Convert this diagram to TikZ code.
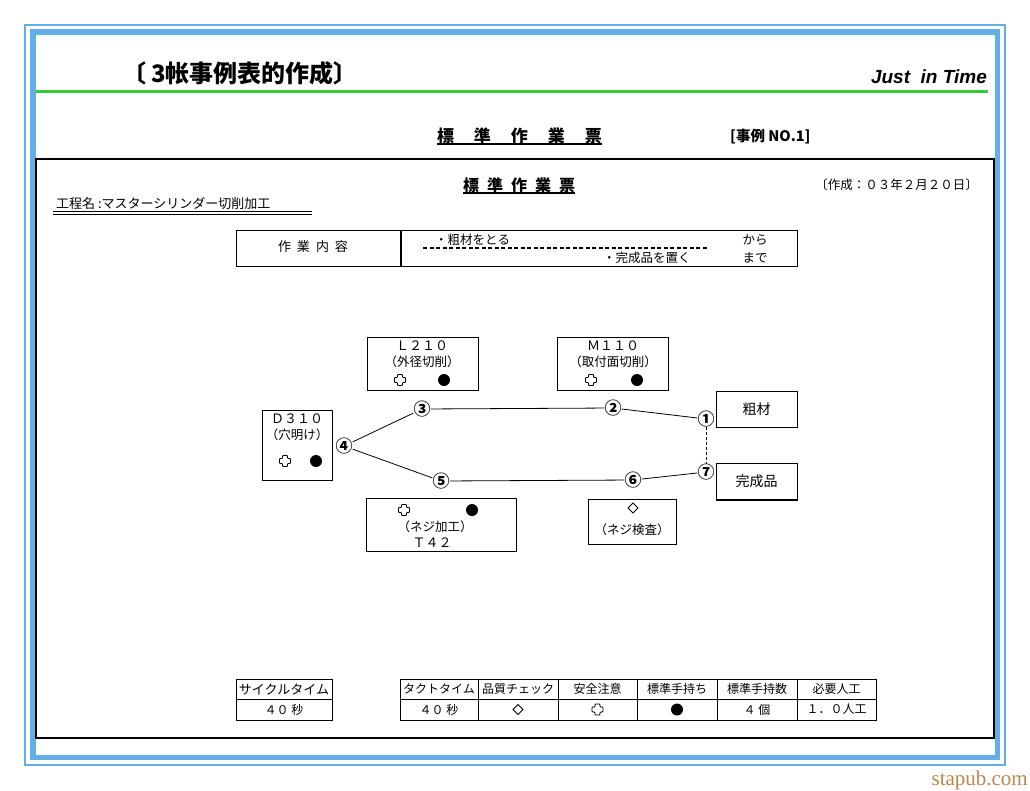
\documentclass[tikz,border=0pt]{standalone}
\usepackage{fontspec}
\newfontfamily\jp{Noto Sans CJK JP}
\newfontfamily\lib{Liberation Sans}
\newfontfamily\stapubfont{Liberation Serif}
\usetikzlibrary{positioning}

\begin{document}
\begin{tikzpicture}[x=1pt, y=-1pt, font=\jp\fontsize{12.5}{14}\selectfont,
        box/.style={draw, line width=1pt, inner sep=0pt},
        cell/.style={draw, line width=1pt, inner sep=0pt, font=\jp\fontsize{12}{14}\selectfont},
        napis/.style={inner sep=0pt},
        num/.style={inner sep=0pt, font=\jp\bfseries\fontsize{17}{17}\selectfont},
        plusmark/.pic={
            \draw[line width=0.9pt, fill=white, rounded corners=0.8pt]
                (-2.5,-5.5) -- (2.5,-5.5) -- (2.5,-2.5) -- (5.5,-2.5) -- (5.5,2.5)
                -- (2.5,2.5) -- (2.5,5.5) -- (-2.5,5.5) -- (-2.5,2.5) -- (-5.5,2.5)
                -- (-5.5,-2.5) -- (-2.5,-2.5) -- cycle;
        },
        dotmark/.pic={\fill (0,0) circle [radius=6pt];},
        diamondmark/.pic={\draw[line width=0.8pt] (0,-5) -- (5,0) -- (0,5) -- (-5,0) -- cycle;}
    ]
        % Kolory
        \definecolor{frameBlue}{RGB}{98, 174, 230}
        \definecolor{lineGreen}{RGB}{50, 205, 50}
        \definecolor{textBrown}{RGB}{186, 135, 78}

        \useasboundingbox (0,0) rectangle (1030,790);
        \fill[white] (0,0) rectangle (1030,790);

        % Ramki
        \draw[frameBlue, line width=2pt] (25,25) rectangle (1005,764.5);
        \draw[frameBlue, line width=5.5pt] (33,32) rectangle (997.5,757.5);
        \draw[lineGreen, line width=3pt] (36,91.3) -- (988,91.3);
        \draw[line width=2.5pt] (36,159) rectangle (994,738);

        % Naglowek
        \node[napis, anchor=west, font=\jp\bfseries\fontsize{24}{24}\selectfont] (headTxt) at (122,73) {〔\hspace{5pt}3帐事例表的作成〕};
        \node[napis, anchor=base east, font=\lib\bfseries\itshape\fontsize{19}{19}\selectfont] (jitTxt) at (987,83.5) {Just\ \ in Time};
        \node[napis, font=\jp\bfseries\fontsize{17}{17}\selectfont] (titleTxt) at (519.5,136) {標\hspace{20pt}準\hspace{20pt}作\hspace{20pt}業\hspace{20pt}票};
        \draw[line width=2pt] (titleTxt.south west) -- (titleTxt.south east);
        \node[napis, anchor=west, font=\jp\bfseries\fontsize{14.5}{14.5}\selectfont] (caseTxt) at (730,137) {[事例 NO.1]};

        % Karta
        \node[napis, font=\jp\bfseries\fontsize{16}{16}\selectfont] (sheetTxt) at (519,185) {標\hspace{8pt}準\hspace{8pt}作\hspace{8pt}業\hspace{8pt}票};
        \draw[line width=1.5pt] (sheetTxt.south west) -- (sheetTxt.south east);
        \node[napis, anchor=east] (dateTxt) at (978,185) {〔作成：０３年２月２０日〕};
        \node[napis, anchor=west, font=\jp\fontsize{13}{13}\selectfont] (procTxt) at (56,204) {工程名 :マスターシリンダー切削加工};
        \draw[line width=0.8pt] (53,211) -- (312,211);
        \draw[line width=0.8pt] (53,214) -- (312,214);

        % Zakres pracy
        \node[box, minimum width=164pt, minimum height=36pt] (workBox) at (318,248) {};
        \node[box, minimum width=397pt, minimum height=36pt] (rangeBox) at (598.5,248) {};
        \draw[line width=2pt] (workBox.north east) -- (workBox.south east);
        \node[napis, font=\jp\fontsize{13}{13}\selectfont] (workTxt) at (313,247) {作\hspace{6pt}業\hspace{6pt}内\hspace{6pt}容};
        \node[napis, anchor=west] (startTxt) at (435,240) {・粗材をとる};
        \node[napis, anchor=west] (endTxt) at (603,258) {・完成品を置く};
        \draw[line width=1.4pt, dash pattern=on 4pt off 2.5pt] (423,248) -- (708,248);
        \node[napis] (fromTxt) at (755,240) {から};
        \node[napis] (toTxt) at (755,258) {まで};

        % Stanowiska
        \node[box, minimum width=111pt, minimum height=53pt] (l210) at (422.5,363.5) {};
        \node[box, minimum width=111pt, minimum height=53pt] (m110) at (612.5,363.5) {};
        \node[box, minimum width=70pt, minimum height=70pt] (d310) at (297,445) {};
        \node[box, minimum width=150pt, minimum height=53pt] (t42) at (441,524.5) {};
        \node[box, minimum width=88pt, minimum height=45pt] (check) at (632,521.5) {};
        \node[box, minimum width=81pt, minimum height=36pt, font=\jp\fontsize{14}{14}\selectfont] (raw) at (756.5,409) {粗材};
        \node[box, minimum width=81pt, minimum height=36pt, font=\jp\fontsize{14}{14}\selectfont] (done) at (756.5,481) {完成品};
        \draw[line width=2pt] (done.south west) -- (done.south east);

        \node[napis, font=\jp\fontsize{13}{13}\selectfont] (l210Txt) at (422,346) {Ｌ２１０};
        \node[napis] (l210Sub) at (422,362) {（外径切削）};
        \pic at (400,380) {plusmark};
        \pic at (444,380) {dotmark};

        \node[napis, font=\jp\fontsize{13}{13}\selectfont] (m110Txt) at (613,346) {Ｍ１１０};
        \node[napis] (m110Sub) at (613,362) {（取付面切削）};
        \pic at (591,380) {plusmark};
        \pic at (637,380) {dotmark};

        \node[napis, font=\jp\fontsize{13}{13}\selectfont] (d310Txt) at (297,419) {Ｄ３１０};
        \node[napis] (d310Sub) at (297,435) {（穴明け）};
        \pic at (285,461) {plusmark};
        \pic at (316,461) {dotmark};

        \pic at (404,510) {plusmark};
        \pic at (472,510) {dotmark};
        \node[napis] (t42Sub) at (435,527) {（ネジ加工）};
        \node[napis, font=\jp\fontsize{13}{13}\selectfont] (t42Txt) at (432,543) {Ｔ４２};

        \pic at (633,508) {diamondmark};
        \node[napis] (checkSub) at (632,530) {（ネジ検査）};

        % Kolejnosc
        \foreach \i/\x/\y/\t in {1/706/419/①, 2/613/408/②, 3/422/409/③, 4/344/446/④,
                                  5/441/481/⑤, 6/633/480/⑥, 7/706/472/⑦}
            \node[num] (n\i) at (\x,\y) {\t};
        \foreach \a/\b in {4/3, 3/2, 2/1, 7/6, 6/5, 5/4}
            \draw[line width=0.8pt] (n\a) -- (n\b);
        \draw[line width=0.8pt, dash pattern=on 3pt off 2pt] (n1) -- (n7);

        % Tabela
        \node[cell, minimum width=96pt, minimum height=20pt, font=\jp\fontsize{13}{14}\selectfont] (cycleHead) at (284,689) {サイクルタイム};
        \node[cell, minimum width=96pt, minimum height=21pt] (cycleVal) at (284,709.5) {４０ 秒};

        \def\kolumny{
            1/400/478/タクトタイム/４０ 秒, 2/478/558/品質チェック/,
            3/558/637/安全注意/, 4/637/717/標準手持ち/,
            5/717/797/標準手持数/４ 個, 6/797/876/必要人工/１．０人工
        }
        \foreach \i/\a/\b/\h/\v in \kolumny {
            \pgfmathsetmacro{\sx}{(\a+\b)/2}
            \pgfmathsetmacro{\sw}{\b-\a}
            \node[cell, minimum width=\sw pt, minimum height=20pt] (h\i) at (\sx,689) {\h};
            \node[cell, minimum width=\sw pt, minimum height=21pt] (v\i) at (\sx,709.5) {\v};
        }
        \pic at (v2) {diamondmark};
        \pic at (v3) {plusmark};
        \pic at (v4) {dotmark};

        \node[napis, anchor=base east, text=textBrown, font=\stapubfont\fontsize{21}{21}\selectfont] (siteTxt) at (1028,785) {stapub.com};
\end{tikzpicture}
\end{document}
